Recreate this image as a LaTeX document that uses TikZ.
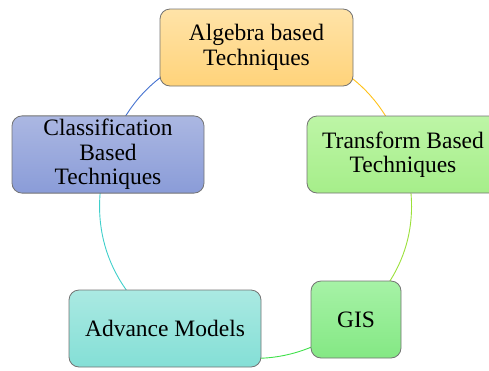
\documentclass[tikz,border=0pt]{standalone}
\usepackage{fontspec}
\setmainfont{Liberation Serif}
\usetikzlibrary{backgrounds}

\definecolor{algtop}{HTML}{FFE3A8}
\definecolor{algbot}{HTML}{FFD37A}
\definecolor{algline}{HTML}{FFC21A}
\definecolor{tratop}{HTML}{BDF5A6}
\definecolor{trabot}{HTML}{A6EE8A}
\definecolor{traline}{HTML}{9BE03A}
\definecolor{gistop}{HTML}{A6F2A6}
\definecolor{gisbot}{HTML}{84E884}
\definecolor{gisline}{HTML}{3FE04A}
\definecolor{advtop}{HTML}{AAE9E2}
\definecolor{advbot}{HTML}{84DFD6}
\definecolor{advline}{HTML}{3FCFCB}
\definecolor{clatop}{HTML}{ABB7E2}
\definecolor{clabot}{HTML}{8A9CD8}
\definecolor{claline}{HTML}{4472D0}

\tikzset{
  box/.style={draw=black!55,line width=0.8pt,rounded corners=10pt,
    minimum height=77pt,align=center},
  link/.style={line width=0.9pt}
}
\tikzstyle{every node}=[font=\fontsize{23.5}{24.5}\selectfont]

\begin{document}
\begin{tikzpicture}[x=1pt,y=-1pt]
    \useasboundingbox (0,0) rectangle (489,370);
    \node[box,minimum width=193pt,top color=algtop,bottom color=algbot] (A) at (256.5,47.5) {Algebra based\\Techniques};
    \node[box,minimum width=192pt,top color=tratop,bottom color=trabot] (B) at (403,154.5) {Transform Based\\Techniques};
    \node[box,minimum width=90pt,top color=gistop,bottom color=gisbot] (C) at (356,319.5) {GIS};
    \node[box,minimum width=192pt,top color=advtop,bottom color=advbot] (D) at (165,328.5) {Advance Models};
    \node[box,minimum width=192pt,top color=clatop,bottom color=clabot] (E) at (108,154.5) {Classification\\Based\\Techniques};
    \begin{scope}[on background layer]
    \draw [link,draw=algline] (A.center) to[bend left=36.4] (B.center);
    \draw [link,draw=traline] (B.center) to[bend left=33.7] (C.center);
    \draw [link,draw=gisline] (C.center) to[bend left=37.6] (D.center);
    \draw [link,draw=advline] (D.center) to[bend left=35.9] (E.center);
    \draw [link,draw=claline] (E.center) to[bend left=36.5] (A.center);
    \end{scope}
\end{tikzpicture}
\end{document}
